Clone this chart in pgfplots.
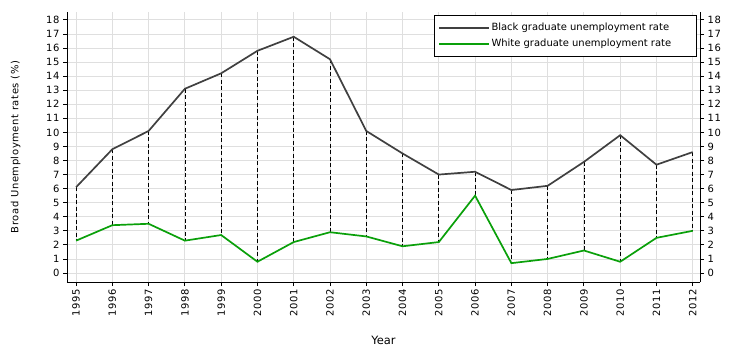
\documentclass[border=0pt]{standalone}
\usepackage{pgfplots}
\usepackage{pgfplotstable}
\pgfplotsset{compat=1.18}
\usepackage{fontspec}
\setmainfont{DejaVu Sans}
\definecolor{bl}{RGB}{64,64,64}
\definecolor{gr}{RGB}{10,160,10}
\pgfplotstableread{
year black white
1995 6.1 2.3
1996 8.8 3.4
1997 10.1 3.5
1998 13.1 2.3
1999 14.2 2.7
2000 15.8 0.8
2001 16.8 2.2
2002 15.2 2.9
2003 10.1 2.6
2004 8.5 1.9
2005 7.0 2.2
2006 7.2 5.5
2007 5.9 0.7
2008 6.2 1.0
2009 7.9 1.6
2010 9.8 0.8
2011 7.7 2.5
2012 8.6 3.0
}\data
\begin{document}
\begin{tikzpicture}
\pgfplotsset{
 common/.style={
  scale only axis, width=633bp, height=270bp,
  xmin=1994.75, xmax=2012.2, ymin=-0.64, ymax=18.56,
  ytick={0,...,18}, xtick={1995,...,2012},
  tick align=outside, major tick length=4bp,
  axis line style={-, line width=0.9bp, black},
  tick style={line width=0.8bp, black},
  /pgf/number format/assume math mode=true,
  /pgf/number format/1000 sep={},
  tick label style={font=\fontsize{10}{12}\selectfont\addfontfeatures{LetterSpace=7}},
 }
}
\begin{axis}[common,
  axis x line*=bottom, axis y line*=left,
  xticklabel style={rotate=90, anchor=east},
  grid=major, grid style={gray!25, line width=0.8bp},
  xlabel={Year},
  xlabel style={at={(axis description cs:0.5,-0.215)}, anchor=center, font=\fontsize{11.5}{13}\selectfont},
  ylabel={Broad Unemployment rates (\%)},
  ylabel style={at={(axis description cs:-0.068,0.5)}, anchor=south, font=\fontsize{10}{12}\selectfont\addfontfeatures{LetterSpace=6}},
  legend style={at={(axis description cs:0.995,0.989)}, anchor=north east, draw=black,
    font=\fontsize{10}{12}\selectfont, inner xsep=4bp, inner ysep=6bp, row sep=3bp,
    nodes={inner sep=1.5bp, text height=8bp, text depth=2bp}},
  legend cell align=left,
  legend image code/.code={\draw[mark repeat=2,mark phase=2] plot coordinates {(0bp,0bp) (25bp,0bp) (50bp,0bp)};},
]
\addplot[draw=none, forget plot, mark=none,
  error bars/.cd, y dir=minus, y explicit, error mark=none,
  error bar style={draw=black, dash pattern=on 4bp off 2.5bp, line width=0.7bp}]
  table[x=year, y=black, y error expr=\thisrow{black}-\thisrow{white}] {\data};
\addplot[color=bl, line width=1.7bp, mark=none] table[x=year, y=black] {\data};
\addlegendentry{Black graduate unemployment rate\kern20bp}
\addplot[color=gr, line width=1.7bp, mark=none] table[x=year, y=white] {\data};
\addlegendentry{White graduate unemployment rate\kern20bp}
\end{axis}
\begin{axis}[common,
  axis x line=none, axis y line*=right,
]
\end{axis}
\pgfresetboundingbox
\path ([shift={(-67bp,-72bp)}]current axis.south west) rectangle ([shift={(44bp,12bp)}]current axis.north east);
\end{tikzpicture}
\end{document}
